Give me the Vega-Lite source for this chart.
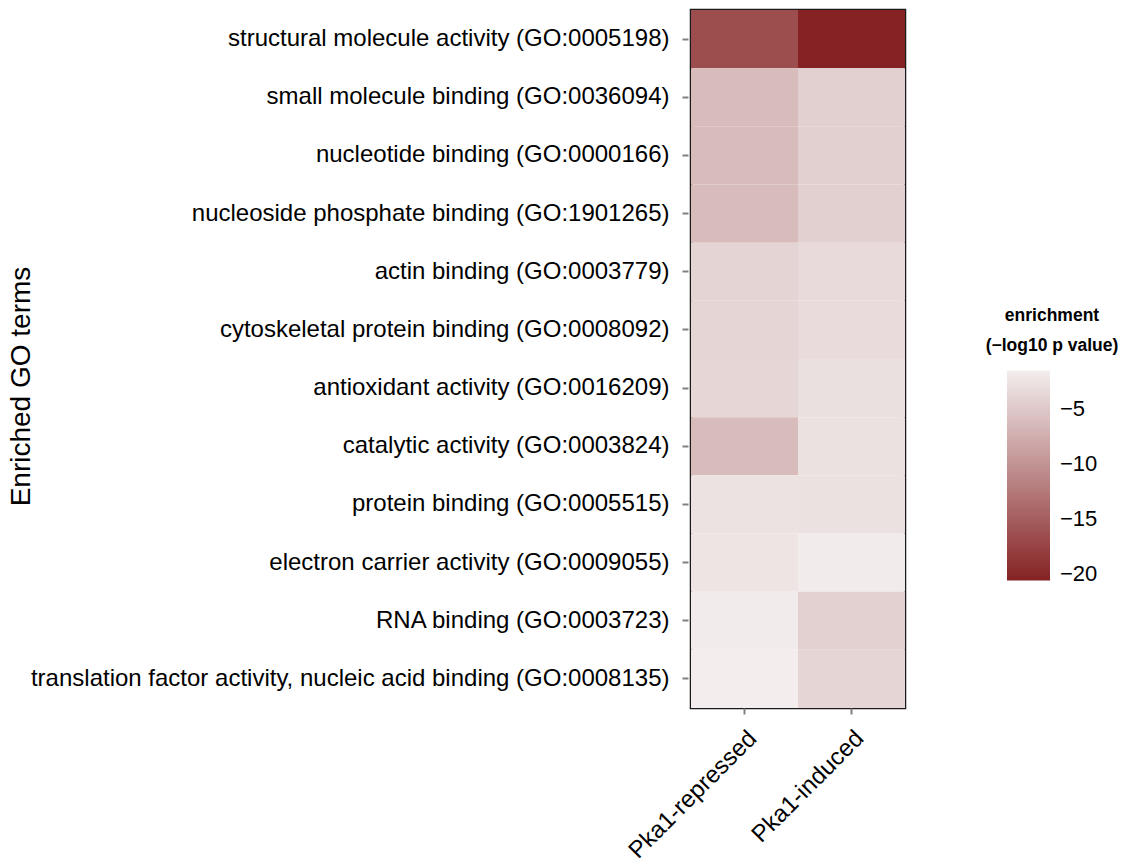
{
  "$schema": "https://vega.github.io/schema/vega-lite/v6.json",
  "width": 214,
  "height": 698,
  "autosize": {"type": "none"},
  "padding": {"left": 691, "top": 10, "right": 222, "bottom": 157},
  "background": "white",
  "config": {
    "font": "Liberation Sans",
    "view": {"stroke": "#1a1a1a", "strokeWidth": 2.5},
    "axis": {"labelColor": "#000000", "titleColor": "#000000", "domain": false, "grid": false, "tickColor": "#808080", "tickWidth": 2, "tickSize": 6}
  },
  "data": {
    "values": [
      {"term": "structural molecule activity (GO:0005198)", "set": "Pka1-repressed", "value": -16.5},
      {"term": "structural molecule activity (GO:0005198)", "set": "Pka1-induced", "value": -20.5},
      {"term": "small molecule binding (GO:0036094)", "set": "Pka1-repressed", "value": -6.2},
      {"term": "small molecule binding (GO:0036094)", "set": "Pka1-induced", "value": -4.4},
      {"term": "nucleotide binding (GO:0000166)", "set": "Pka1-repressed", "value": -6.2},
      {"term": "nucleotide binding (GO:0000166)", "set": "Pka1-induced", "value": -4.4},
      {"term": "nucleoside phosphate binding (GO:1901265)", "set": "Pka1-repressed", "value": -6.2},
      {"term": "nucleoside phosphate binding (GO:1901265)", "set": "Pka1-induced", "value": -4.4},
      {"term": "actin binding (GO:0003779)", "set": "Pka1-repressed", "value": -3.9},
      {"term": "actin binding (GO:0003779)", "set": "Pka1-induced", "value": -3.4},
      {"term": "cytoskeletal protein binding (GO:0008092)", "set": "Pka1-repressed", "value": -3.85},
      {"term": "cytoskeletal protein binding (GO:0008092)", "set": "Pka1-induced", "value": -3.3},
      {"term": "antioxidant activity (GO:0016209)", "set": "Pka1-repressed", "value": -3.75},
      {"term": "antioxidant activity (GO:0016209)", "set": "Pka1-induced", "value": -2.8},
      {"term": "catalytic activity (GO:0003824)", "set": "Pka1-repressed", "value": -6.2},
      {"term": "catalytic activity (GO:0003824)", "set": "Pka1-induced", "value": -2.7},
      {"term": "protein binding (GO:0005515)", "set": "Pka1-repressed", "value": -2.6},
      {"term": "protein binding (GO:0005515)", "set": "Pka1-induced", "value": -2.7},
      {"term": "electron carrier activity (GO:0009055)", "set": "Pka1-repressed", "value": -2.4},
      {"term": "electron carrier activity (GO:0009055)", "set": "Pka1-induced", "value": -1.8},
      {"term": "RNA binding (GO:0003723)", "set": "Pka1-repressed", "value": -1.8},
      {"term": "RNA binding (GO:0003723)", "set": "Pka1-induced", "value": -4.3},
      {"term": "translation factor activity, nucleic acid binding (GO:0008135)", "set": "Pka1-repressed", "value": -1.55},
      {"term": "translation factor activity, nucleic acid binding (GO:0008135)", "set": "Pka1-induced", "value": -3.85}
    ]
  },
  "mark": {"type": "rect", "strokeWidth": 0},
  "encoding": {
    "x": {
      "field": "set", "type": "nominal",
      "sort": ["Pka1-repressed", "Pka1-induced"],
      "scale": {"paddingInner": 0, "paddingOuter": 0},
      "axis": {"title": null, "labelAngle": -45, "labelAlign": "right", "labelBaseline": "top", "labelFontSize": 24, "labelPadding": 12, "offset": 0}
    },
    "y": {
      "field": "term", "type": "nominal",
      "sort": null,
      "scale": {"paddingInner": 0, "paddingOuter": 0},
      "axis": {"title": "Enriched GO terms", "titleFontSize": 28, "titleFontWeight": "normal", "titleX": -667, "titleY": 376, "titleAngle": -90, "titleAlign": "center", "titleBaseline": "middle", "labelFontSize": 24, "labelPadding": 13, "offset": 3, "labelLimit": 800}
    },
    "color": {
      "field": "value", "type": "quantitative",
      "scale": {"domain": [-20.57, -1.48], "range": ["#852223", "#F3EEEE"], "interpolate": "rgb"},
      "legend": {
        "title": ["enrichment", "(−log10 p value)"],
        "titleFontSize": 17.5, "titleFontWeight": "bold", "titleColor": "#000000",
        "titleAlign": "center", "titleAnchor": "middle", "titleLineHeight": 30, "titlePadding": 16,
        "orient": "none", "legendX": 295, "legendY": 297,
        "direction": "vertical",
        "gradientLength": 210, "gradientThickness": 43, "gradientStrokeWidth": 0,
        "values": [-5, -10, -15, -20],
        "labelFontSize": 22, "labelColor": "#000000", "labelOffset": 10
      }
    }
  }
}
